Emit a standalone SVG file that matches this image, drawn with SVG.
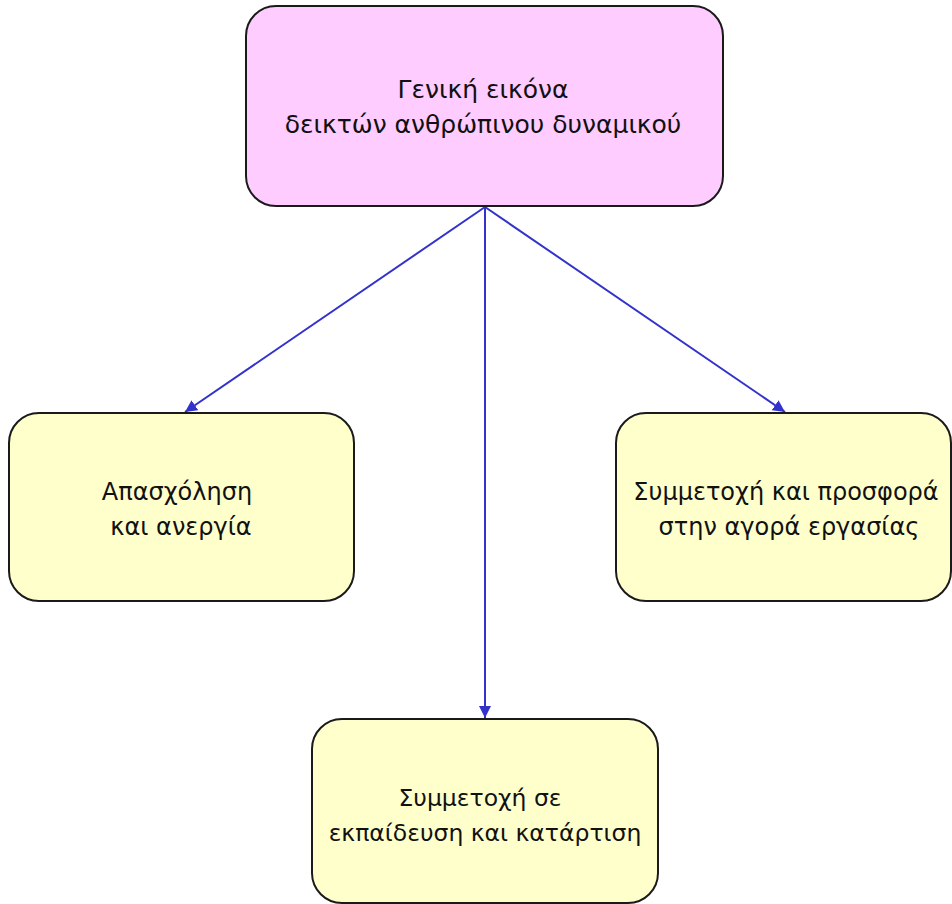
<svg xmlns="http://www.w3.org/2000/svg" width="952" height="904" viewBox="0 0 952 904">
<style>
.box{stroke:#1a1a1a;stroke-width:2}
.top{fill:#ffccff}
.leaf{fill:#ffffcc}
.lbl{font-family:"DejaVu Sans","Noto Sans",sans-serif;font-size:24px;fill:#111;text-anchor:middle}
.big{font-size:25px}
.small{font-size:23.5px}
.edge{stroke:#3333cc;stroke-width:2;fill:none}
</style>
<defs>
<marker id="arr" viewBox="0 0 12 12" refX="12" refY="6" markerWidth="12" markerHeight="12" markerUnits="userSpaceOnUse" orient="auto">
<path d="M0,0 L12,6 L0,12 Z" fill="#3333cc"/>
</marker>
</defs>
<rect width="952" height="904" fill="#ffffff"/>
<g id="connectors">
<line class="edge" x1="485" y1="207" x2="185" y2="412" marker-end="url(#arr)"/>
<line class="edge" x1="485" y1="207" x2="485" y2="718" marker-end="url(#arr)"/>
<line class="edge" x1="485" y1="207" x2="785" y2="412" marker-end="url(#arr)"/>
</g>
<g id="node-top">
<rect class="box top" x="246" y="6" width="477" height="200" rx="30"/>
<text class="lbl big" x="483" y="98">Γενική εικόνα</text>
<text class="lbl big" x="483" y="133">δεικτών ανθρώπινου δυναμικού</text>
</g>
<g id="node-left">
<rect class="box leaf" x="9" y="413" width="345" height="188" rx="30"/>
<text class="lbl" x="177" y="500">Απασχόληση</text>
<text class="lbl" x="181" y="535">και ανεργία</text>
</g>
<g id="node-right">
<rect class="box leaf" x="616" y="413" width="335" height="188" rx="30"/>
<text class="lbl" x="786" y="500">Συμμετοχή και προσφορά</text>
<text class="lbl" x="789" y="535">στην αγορά εργασίας</text>
</g>
<g id="node-bottom">
<rect class="box leaf" x="312" y="719" width="346" height="184" rx="30"/>
<text class="lbl small" x="480" y="806">Συμμετοχή σε</text>
<text class="lbl small" x="485" y="841">εκπαίδευση και κατάρτιση</text>
</g>
</svg>
